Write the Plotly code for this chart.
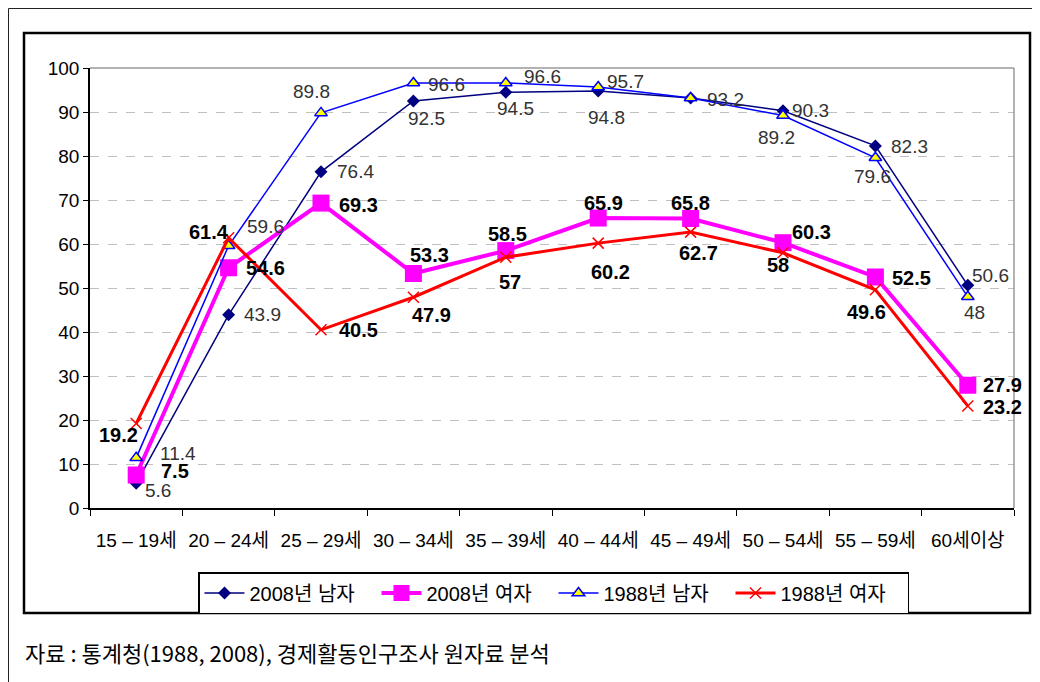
import plotly.graph_objects as go

categories = ["15 – 19세", "20 – 24세", "25 – 29세", "30 – 34세", "35 – 39세",
              "40 – 44세", "45 – 49세", "50 – 54세", "55 – 59세", "60세이상"]
male_2008 = [5.6, 43.9, 76.4, 92.5, 94.5, 94.8, 93.2, 90.3, 82.3, 50.6]
female_2008 = [7.5, 54.6, 69.3, 53.3, 58.5, 65.9, 65.8, 60.3, 52.5, 27.9]
male_1988 = [11.4, 59.6, 89.8, 96.6, 96.6, 95.7, 93.2, 89.2, 79.6, 48]
female_1988 = [19.2, 61.4, 40.5, 47.9, 57, 60.2, 62.7, 58, 49.6, 23.2]
series_names = ["2008년 남자", "2008년 여자", "1988년 남자", "1988년 여자"]
source_text = "자료 : 통계청(1988, 2008), 경제활동인구조사 원자료 분석"

# label offsets (pixels: dx right, dy down)
off_m08 = [(22, 7), (34, 0), (34, 0), (13, 17), (10, 16), (8, 27), None, (27, 0), (34, 1), (23, -10)]
off_f08 = [(39, -4), (37, 0), (37, 2), (16, -18), (2, -17), (5, -15), (0, -15), (28, -11), (36, 1), (35, 0)]
off_m88 = [(42, -4), (37, -19), (-10, -21), (33, 2), (37, -6), (27, -5), (35, 2), (-7, 22), (-3, 19), (7, 16)]
off_f88 = [(-18, 11), (-20, -6), (37, 0), (18, 18), (4, 25), (12, 29), (8, 21), (-5, 12), (-9, 22), (35, 1)]

FONT = "Liberation Sans, Arial, Noto Sans CJK KR, sans-serif"

fig = go.Figure()
fig.add_trace(go.Scatter(x=categories, y=male_2008, name=series_names[0], mode="lines+markers",
                         line=dict(color="#000080", width=1.5),
                         marker=dict(symbol="diamond", size=10, color="#000080")))
fig.add_trace(go.Scatter(x=categories, y=female_2008, name=series_names[1], mode="lines+markers",
                         line=dict(color="#FF00FF", width=4),
                         marker=dict(symbol="square", size=17, color="#FF00FF")))
fig.add_trace(go.Scatter(x=categories, y=male_1988, name=series_names[2], mode="lines+markers",
                         line=dict(color="#0000FF", width=1.5),
                         marker=dict(symbol="triangle-up", size=11, color="#FFFF00",
                                     line=dict(color="#0000FF", width=1.5))))
fig.add_trace(go.Scatter(x=categories, y=female_1988, name=series_names[3], mode="lines+markers",
                         line=dict(color="#FF0000", width=3),
                         marker=dict(symbol="x-thin", size=11, color="#FF0000",
                                     line=dict(color="#FF0000", width=1.5))))

annotations = []
def add_labels(vals, offs, bold):
    for c, v, o in zip(categories, vals, offs):
        if o is None:
            continue
        txt = f"{v:g}"
        annotations.append(dict(
            x=c, y=v, xref="x", yref="y", text=f"<b>{txt}</b>" if bold else txt,
            showarrow=False, xshift=o[0], yshift=-o[1],
            font=dict(family=FONT, size=20 if bold else 19,
                      color="#000000" if bold else "#333333")))

add_labels(male_2008, off_m08, False)
add_labels(male_1988, off_m88, False)
add_labels(female_2008, off_f08, True)
add_labels(female_1988, off_f88, True)

annotations.append(dict(text=source_text, xref="paper", yref="paper",
                        x=(23 - 90) / 924, y=(508 - 652) / 440, xanchor="left", yanchor="middle",
                        showarrow=False,
                        font=dict(family="Noto Sans CJK KR, sans-serif", size=22, color="#000000")))

shapes = [
    # outer thin frame (top/left edges at the page's visible edge of the figure)
    dict(type="rect", xref="paper", yref="paper",
         x0=(8.5 - 90) / 924, x1=(1050 - 90) / 924, y0=(508 - 700) / 440, y1=(508 - 8.5) / 440,
         line=dict(color="#222222", width=1), layer="below"),
    # inner chart frame
    dict(type="rect", xref="paper", yref="paper",
         x0=(24 - 90) / 924, x1=(1030 - 90) / 924, y0=(508 - 613) / 440, y1=(508 - 33) / 440,
         line=dict(color="#000000", width=2.5), layer="below"),
    # plot area top/right gray border
    dict(type="line", xref="paper", yref="paper", x0=0, x1=1, y0=1, y1=1,
         line=dict(color="#999999", width=1.5)),
    dict(type="line", xref="paper", yref="paper", x0=1, x1=1, y0=0, y1=1,
         line=dict(color="#999999", width=1.5)),
]

# page body has an 8px default margin, so the figure is offset by 8px
fig.update_layout(
    width=1032, height=674,
    margin=dict(l=82, r=26, t=60, b=174, autoexpand=False),
    paper_bgcolor="white", plot_bgcolor="white",
    font=dict(family=FONT, size=18, color="#000000"),
    showlegend=True,
    legend=dict(orientation="h", x=(198 - 90) / 924, y=(508 - 572) / 440,
                xanchor="left", yanchor="top",
                bordercolor="#000000", borderwidth=1.5, bgcolor="white",
                font=dict(family=FONT, size=20, color="#000000"),
                itemwidth=40, traceorder="normal",
                entrywidth=122, entrywidthmode="pixels"),
    annotations=annotations,
    shapes=shapes,
    xaxis=dict(type="category", range=[-0.5, 9.5], showgrid=False,
               showline=True, linecolor="#000000", linewidth=1.5,
               ticks="outside", tickson="boundaries", ticklen=6, tickcolor="#000000",
               ticklabelstandoff=14,
               tickfont=dict(family=FONT, size=19, color="#000000"), zeroline=False),
    yaxis=dict(range=[0, 100], dtick=10, showgrid=True, gridcolor="#C0C0C0",
               griddash="dash", gridwidth=1,
               showline=True, linecolor="#000000", linewidth=1.5,
               ticks="outside", ticklen=5, tickcolor="#000000",
               tickfont=dict(family=FONT, size=19, color="#000000"), zeroline=False),
)

fig.write_html("out.html")
